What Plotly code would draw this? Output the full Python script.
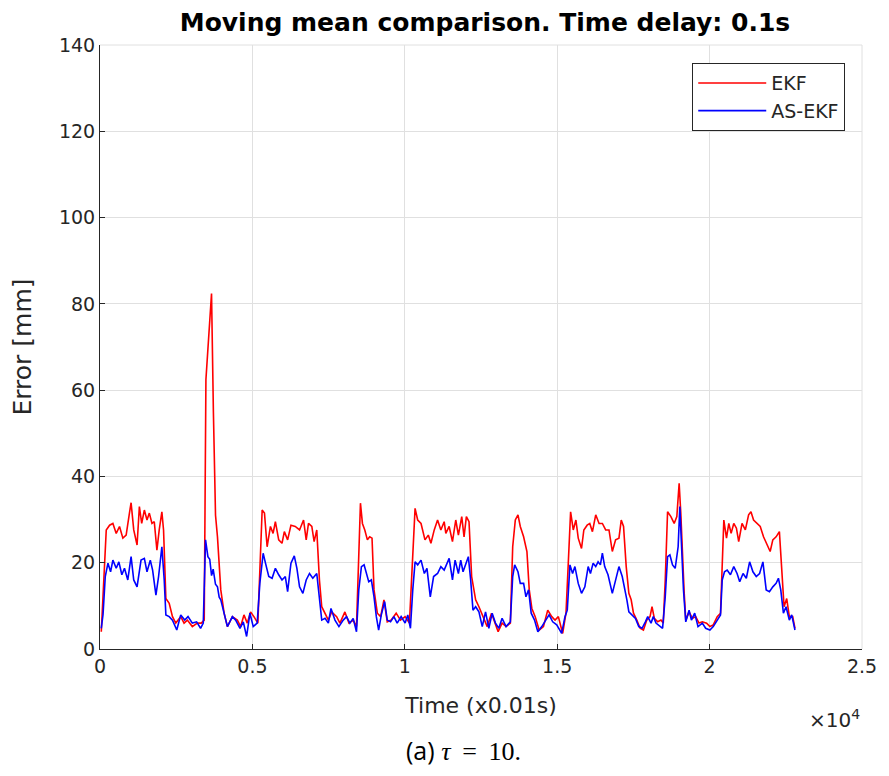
import plotly.graph_objects as go

# Moving-mean tracking error for two filters (time in samples of 0.01 s)
ekf_t = [42, 120, 205, 315, 423, 532, 640, 750, 858, 966, 1020, 1107, 1216, 1292, 1368, 1455, 1542, 1618,
         1705, 1781, 1867, 1943, 2030, 2085, 2161, 2270, 2378, 2486, 2649, 2758, 2866, 3029, 3192, 3322,
         3420, 3475, 3561, 3659, 3720, 3790, 3854, 3920, 3963, 4072, 4180, 4343, 4506, 4614, 4723, 4831,
         4940, 5049, 5179, 5320, 5396, 5483, 5592, 5678, 5754, 5863, 5971, 6048, 6156, 6265, 6406, 6547,
         6678, 6765, 6840, 6949, 7025, 7112, 7199, 7275, 7384, 7492, 7600, 7763, 7872, 8035, 8166, 8306,
         8415, 8490, 8545, 8610, 8687, 8773, 8849, 8925, 8990, 9099, 9208, 9316, 9425, 9555, 9717, 9858,
         10011, 10152, 10261, 10337, 10423, 10532, 10662, 10771, 10857, 10966, 11075, 11183, 11292, 11346,
         11455, 11564, 11672, 11759, 11868, 11944, 12020, 12107, 12193, 12270, 12324, 12432, 12563, 12704,
         12845, 12954, 13062, 13192, 13322, 13463, 13540, 13626, 13713, 13789, 13898, 14007, 14083, 14169,
         14278, 14408, 14549, 14690, 14821, 14929, 15038, 15179, 15288, 15364, 15440, 15527, 15614, 15690,
         15798, 15874, 15983, 16069, 16156, 16264, 16374, 16482, 16591, 16699, 16808, 16916, 17026, 17101,
         17177, 17264, 17351, 17427, 17503, 17612, 17720, 17829, 17938, 18046, 18111, 18187, 18296, 18404,
         18480, 18545, 18621, 18730, 18838, 18925, 19001, 19055, 19110, 19164, 19218, 19327, 19436, 19544,
         19652, 19762, 19902, 20010, 20120, 20250, 20358, 20414, 20467, 20554, 20630, 20706, 20793, 20880,
         20955, 21064, 21173, 21280, 21357, 21443, 21552, 21661, 21769, 21878, 21987, 22074, 22182, 22290,
         22367, 22443, 22530, 22616, 22726, 22801]
ekf_err = [4.0, 15.0, 27.6, 28.7, 29.1, 26.8, 28.4, 25.7, 26.4, 31.5, 33.9, 27.6, 24.1, 33.0, 29.1, 32.2, 29.9, 31.5,
           29.1, 29.5, 22.9, 27.6, 31.8, 27.6, 11.7, 10.6, 7.5, 6.0, 7.5, 6.0, 6.7, 5.2, 6.0, 6.0,
           6.7, 62.4, 70.9, 82.4, 55.0, 31.0, 26.0, 18.0, 13.7, 8.3, 5.2, 7.5, 6.7, 5.2, 7.9, 6.0,
           8.6, 7.5, 6.0, 32.2, 31.5, 23.7, 28.4, 26.8, 29.5, 25.3, 24.5, 27.2, 25.3, 28.7, 28.4, 27.6,
           29.9, 25.3, 29.1, 28.4, 24.9, 27.6, 16.0, 9.8, 8.3, 6.7, 8.6, 7.5, 6.0, 8.6, 6.0, 6.7,
           5.2, 23.7, 33.8, 29.1, 27.6, 25.3, 26.0, 25.7, 13.7, 8.3, 7.5, 11.4, 6.3, 6.7, 8.3, 6.7,
           7.5, 6.0, 19.9, 32.6, 29.9, 29.1, 25.3, 26.4, 24.5, 27.6, 29.9, 27.6, 29.5, 26.8,
           28.4, 24.9, 29.9, 26.4, 30.7, 26.0, 30.7, 29.5, 16.8, 14.1, 11.4, 9.8, 7.5, 5.2,
           8.3, 6.0, 4.0, 6.0, 5.2, 6.0, 23.7, 29.9, 31.1, 28.4, 26.0, 22.6, 13.7, 9.4,
           7.5, 4.4, 5.2, 9.0, 7.5, 6.7, 7.5, 3.6, 8.3, 19.9, 31.8, 27.6, 29.9, 25.7,
           23.3, 27.6, 28.7, 29.1, 27.2, 31.1, 29.1, 29.1, 27.6, 27.6, 22.6, 25.3, 25.7, 29.9,
           28.4, 19.1, 12.9, 11.4, 8.3, 6.7, 4.8, 4.4, 6.7, 7.5, 9.8, 7.1, 6.3, 6.7,
           6.0, 16.0, 31.8, 30.7, 29.1, 30.7, 38.4, 31.5, 21.4, 13.3, 6.7, 8.6, 7.1, 7.5,
           6.0, 6.3, 6.0, 5.2, 5.6, 7.5, 8.3, 19.9, 29.9, 25.7, 29.1, 26.8, 29.1, 28.0,
           24.9, 29.1, 27.6, 31.1, 31.8, 29.9, 29.1, 28.4, 26.0, 24.1, 22.6, 25.3, 26.0, 27.2,
           19.1, 9.8, 11.7, 7.5, 7.5, 4.8]

asekf_t = [42, 100, 173, 261, 347, 423, 532, 619, 717, 803, 912, 1020, 1107, 1216, 1346, 1455, 1542, 1650,
           1726, 1835, 1922, 2030, 2107, 2161, 2270, 2378, 2519, 2649, 2780, 2888, 3029, 3170, 3300, 3388,
           3463, 3540, 3600, 3660, 3713, 3789, 3854, 3910, 3963, 4072, 4180, 4343, 4451, 4593, 4701, 4810,
           4919, 5028, 5157, 5244, 5353, 5429, 5537, 5646, 5754, 5863, 5971, 6080, 6156, 6265, 6374, 6460,
           6547, 6656, 6765, 6873, 6982, 7112, 7199, 7275, 7384, 7492, 7578, 7709, 7839, 7980, 8089, 8198,
           8306, 8415, 8490, 8577, 8664, 8740, 8817, 8903, 8990, 9066, 9142, 9229, 9338, 9425, 9533, 9642,
           9750, 9880, 10011, 10098, 10185, 10261, 10337, 10423, 10532, 10641, 10727, 10836, 10945, 11075,
           11183, 11292, 11455, 11564, 11650, 11759, 11835, 11911, 11998, 12085, 12161, 12237, 12324, 12432,
           12541, 12649, 12758, 12866, 12975, 13084, 13192, 13322, 13463, 13540, 13605, 13713, 13789, 13898,
           13974, 14061, 14147, 14257, 14365, 14495, 14625, 14734, 14853, 14984, 15147, 15255, 15331, 15418,
           15505, 15581, 15690, 15798, 15907, 16016, 16091, 16179, 16264, 16342, 16417, 16482, 16558, 16667,
           16808, 16916, 17026, 17134, 17210, 17286, 17351, 17459, 17568, 17677, 17785, 17893, 17970, 18078,
           18154, 18241, 18371, 18458, 18545, 18621, 18697, 18784, 18871, 18968, 19023, 19078, 19143, 19218,
           19327, 19403, 19511, 19620, 19762, 19870, 20010, 20120, 20250, 20358, 20414, 20489, 20576, 20684,
           20793, 20901, 20988, 21097, 21205, 21313, 21422, 21531, 21640, 21749, 21857, 21964, 22074, 22182,
           22258, 22335, 22422, 22508, 22616, 22694, 22801]
asekf_err = [4.8, 8.0, 16.8, 19.9, 17.9, 20.6, 18.7, 20.2, 17.2, 18.7, 16.0, 21.4, 16.0, 14.4, 20.6, 21.0, 17.9, 20.6,
             18.3, 12.5, 16.8, 23.7, 16.0, 7.9, 7.5, 6.7, 4.4, 7.9, 6.7, 7.5, 6.0, 6.3, 4.8, 6.0,
             25.3, 21.4, 20.8, 17.0, 18.5, 15.0, 14.4, 12.0, 11.4, 8.3, 5.2, 7.5, 6.7, 4.8, 6.3, 2.9,
             8.3, 5.2, 6.0, 15.2, 22.2, 19.9, 16.8, 16.4, 18.7, 17.2, 16.0, 16.8, 13.3, 19.9, 21.6, 18.7,
             14.4, 12.9, 16.0, 17.5, 16.4, 17.5, 11.4, 6.7, 7.1, 6.0, 9.4, 6.7, 5.2, 6.7, 7.5, 6.0,
             7.1, 4.0, 13.7, 19.1, 19.5, 17.5, 15.6, 16.0, 12.1, 7.5, 4.4, 7.9, 11.0, 6.7, 6.3, 7.5,
             6.0, 7.5, 6.0, 7.9, 4.8, 13.7, 20.2, 19.5, 20.6, 17.5, 18.7, 12.1, 16.8, 17.5,
             19.1, 18.3, 21.0, 16.0, 20.6, 17.5, 20.6, 17.9, 19.5, 21.4, 16.0, 9.0, 9.8, 8.6,
             5.2, 8.6, 4.8, 8.3, 6.0, 4.8, 7.1, 5.2, 6.3, 16.8, 19.5, 17.9, 15.2, 15.2,
             12.1, 13.7, 8.3, 6.7, 4.0, 5.2, 6.7, 7.9, 6.3, 5.6, 3.6, 7.5, 9.0, 19.5,
             17.5, 19.1, 15.2, 12.9, 14.4, 19.1, 17.5, 19.9, 19.1, 20.2, 19.5, 22.2, 19.1, 17.2,
             12.9, 16.0, 19.1, 16.8, 14.4, 11.4, 8.6, 7.9, 7.1, 5.2, 4.8, 6.3, 7.5, 6.0,
             7.5, 6.0, 5.2, 4.8, 12.1, 21.4, 21.8, 19.5, 18.7, 23.7, 33.0, 23.7, 13.7, 6.3,
             9.0, 6.7, 8.3, 5.2, 6.0, 4.8, 4.4, 5.2, 6.7, 7.9, 16.0, 17.9, 18.3, 17.2,
             19.1, 17.5, 15.6, 17.5, 16.4, 20.2, 17.9, 16.8, 17.5, 20.2, 13.7, 13.3, 14.4, 15.2,
             16.4, 13.7, 8.3, 9.8, 6.7, 7.9, 4.4]

x_tick_vals = [0, 5000, 10000, 15000, 20000, 25000]
x_tick_text = ["0", "0.5", "1", "1.5", "2", "2.5"]
y_tick_vals = [0, 20, 40, 60, 80, 100, 120, 140]

AXIS_COLOR = "#262626"
GRID_COLOR = "#e0e0e0"
FONT = "DejaVu Sans"

fig = go.Figure()
fig.add_trace(go.Scatter(x=ekf_t, y=ekf_err, mode="lines", name="EKF",
                         line=dict(color="#ff0000", width=1.6)))
fig.add_trace(go.Scatter(x=asekf_t, y=asekf_err, mode="lines", name="AS-EKF",
                         line=dict(color="#0000ff", width=1.6)))

fig.update_layout(
    width=889, height=776,
    margin=dict(l=100, r=22, t=45, b=127),
    paper_bgcolor="white", plot_bgcolor="white",
    font=dict(family=FONT, color=AXIS_COLOR),
    title=dict(text="<b>Moving mean comparison. Time delay: 0.1s</b>",
               x=485 / 889, xanchor="center", y=1 - 22 / 776, yanchor="middle",
               font=dict(family=FONT, size=25, color="black")),
    showlegend=True,
    legend=dict(x=0.978, y=0.970, xanchor="right", yanchor="top",
                bgcolor="white", bordercolor=AXIS_COLOR, borderwidth=1,
                font=dict(family=FONT, size=19, color=AXIS_COLOR),
                tracegroupgap=0, itemwidth=68),
    xaxis=dict(range=[0, 25000], tickvals=x_tick_vals, ticktext=x_tick_text,
               showgrid=True, gridcolor=GRID_COLOR, gridwidth=1,
               showline=True, linecolor=AXIS_COLOR, linewidth=1,
               ticks="inside", ticklen=5, tickcolor=AXIS_COLOR,
               tickfont=dict(size=19, color=AXIS_COLOR), zeroline=False,
               title=dict(text="Time (x0.01s)", font=dict(size=22, color=AXIS_COLOR), standoff=21)),
    yaxis=dict(range=[0, 140], tickvals=y_tick_vals,
               showgrid=True, gridcolor=GRID_COLOR, gridwidth=1,
               showline=True, linecolor=AXIS_COLOR, linewidth=1,
               ticks="inside", ticklen=5, tickcolor=AXIS_COLOR,
               tickfont=dict(size=19, color=AXIS_COLOR), zeroline=False,
               title=dict(text="Error [mm]", font=dict(size=25, color=AXIS_COLOR), standoff=20)),
)

# light frame on the top and right edges of the axes box
fig.add_shape(type="line", xref="paper", yref="paper", x0=0, x1=1, y0=1, y1=1,
              line=dict(color=GRID_COLOR, width=1))
fig.add_shape(type="line", xref="paper", yref="paper", x0=1, x1=1, y0=0, y1=1,
              line=dict(color=GRID_COLOR, width=1))

# axis exponent label
fig.add_annotation(xref="paper", yref="paper", x=1.0, y=-0.116, xanchor="right", yanchor="middle",
                   text="×10<sup>4</sup>", showarrow=False,
                   font=dict(family=FONT, size=20, color=AXIS_COLOR))

# sub-figure caption
fig.add_annotation(xref="paper", yref="paper", x=(466 - 100) / 767, y=-0.167, xanchor="center", yanchor="middle",
                   text="(a) <span style=\"font-family:'Liberation Serif'; font-size:26px\"><i>τ</i>\u2009 = \u200910.</span>",
                   showarrow=False, font=dict(family="Open Sans", size=25, color="black"))

fig.write_html("out.html")
